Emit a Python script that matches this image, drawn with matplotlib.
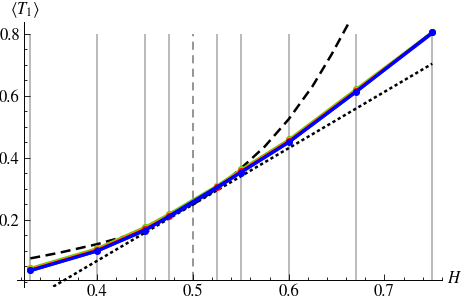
import matplotlib
matplotlib.use("Agg")
import matplotlib.pyplot as plt
from matplotlib.ticker import MultipleLocator

# H values of the computed points
H = [0.33, 0.40, 0.45, 0.475, 0.525, 0.55, 0.60, 0.67, 0.75]
T_green = [0.045, 0.109, 0.178, 0.220, 0.311, 0.363, 0.460, 0.622, 0.807]
T_orange = [0.042, 0.106, 0.175, 0.216, 0.308, 0.360, 0.457, 0.619, 0.806]
T_red = [0.040, 0.104, 0.172, 0.213, 0.306, 0.358, 0.455, 0.617, 0.806]
H_blue = [0.33, 0.40, 0.45, 0.55, 0.60, 0.67, 0.75]
T_blue = [0.037, 0.100, 0.166, 0.353, 0.450, 0.612, 0.805]

# series expansion around H = 1/2 (dashed) and its tangent (dotted)
H_dash = [0.33, 0.36, 0.40, 0.43, 0.45, 0.475, 0.50, 0.525, 0.55, 0.575, 0.60, 0.625, 0.645, 0.663]
T_dash = [0.076, 0.094, 0.122, 0.148, 0.175, 0.210, 0.250, 0.300, 0.366, 0.437, 0.525, 0.632, 0.735, 0.837]
H_dot = [0.354, 0.75]
T_dot = [-0.015, 0.704]

# vertical reference lines
H_grid = [0.33, 0.40, 0.45, 0.475, 0.525, 0.55, 0.60, 0.67, 0.75]
H_crit = 0.5
grid_top = 0.8

plt.rcParams["font.family"] = "STIXGeneral"
plt.rcParams["mathtext.fontset"] = "stix"

fig = plt.figure(figsize=(4.63, 3.0), dpi=100)
ax = fig.add_axes([16.7 / 463, 1 - 286.6 / 300, (441.8 - 16.7) / 463, (286.6 - 21.6) / 300])
ax.set_xlim(0.3158, 0.76)
ax.set_ylim(-0.015, 0.84)

ax.vlines(H_grid, 0.005, grid_top, color="#b4b4b4", lw=1.3, zorder=1)
ax.vlines([H_crit], 0.005, grid_top, color="#8c8c8c", lw=1.3, linestyles=(0, (4.5, 3)), zorder=1)

ax.plot(H_dash, T_dash, color="black", lw=1.8, ls=(0, (4, 2.2)), zorder=3)
ax.plot(H_dot, T_dot, color="black", lw=1.8, ls=(0, (1.3, 1.1)), zorder=3)

ax.plot(H, T_green, color="#66cc00", lw=1.6, marker="o", ms=4.2, zorder=4)
ax.plot(H, T_orange, color="#ff9900", lw=1.4, marker="o", ms=4.0, zorder=4)
ax.plot(H, T_red, color="#ff0000", lw=1.4, marker="o", ms=4.0, zorder=4)
ax.plot(H_blue, T_blue, color="#0000ff", lw=2.2, marker="o", ms=4.0, zorder=5)
# blue passes through the red/orange points where it has no marker
ax.plot(H, [b - 0.004 for b in T_red], color="#0000ff", lw=2.2, zorder=5)

for s in ("top", "right"):
    ax.spines[s].set_visible(False)
ax.spines["left"].set_position(("data", 0.3234))
ax.spines["bottom"].set_position(("data", 0.005))
ax.spines["left"].set_linewidth(0.7)
ax.spines["bottom"].set_linewidth(0.7)

ax.xaxis.set_minor_locator(MultipleLocator(0.02))
ax.yaxis.set_minor_locator(MultipleLocator(0.05))
ax.set_xticks([0.4, 0.5, 0.6, 0.7])
ax.set_xticklabels(["0.4", "0.5", "0.6", "0.7"])
ax.set_yticks([0.2, 0.4, 0.6, 0.8])
ax.set_yticklabels(["0.2", "0.4", "0.6", "0.8"])
ax.tick_params(which="both", direction="in", width=0.6, labelsize=12, colors="black")
ax.tick_params(which="major", length=4.5)
ax.tick_params(which="minor", length=2.5)
ax.tick_params(axis="x", pad=2.5)
ax.tick_params(axis="y", pad=3)

fig.text(25 / 463, 1 - 10 / 300, r"$\langle T_1\rangle$", ha="center", va="center", fontsize=12)
fig.text(454 / 463, 1 - 279 / 300, r"$H$", ha="center", va="center", fontsize=12)

fig.savefig("out.png", dpi=100, facecolor="white")
